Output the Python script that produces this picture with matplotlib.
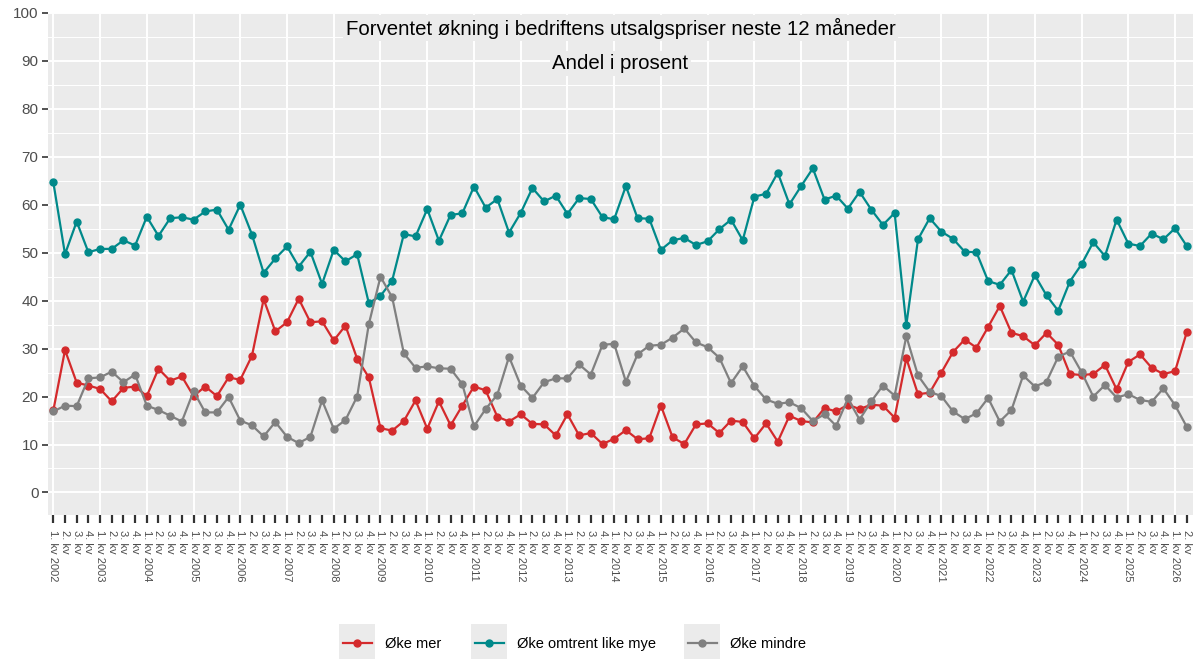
import matplotlib
matplotlib.use("Agg")
import matplotlib.pyplot as plt
from matplotlib.patches import Rectangle
from matplotlib.lines import Line2D
import numpy as np

plt.rcParams['font.family'] = ['Liberation Sans', 'DejaVu Sans']

# 2002 1. kv - 2026 2. kv
years = list(range(2002, 2027))
quarters = [(y, q) for y in years for q in range(1, 5)][:98]
tick_labels = [f"{q}. kv {y}" if q == 1 else f"{q}. kv" for y, q in quarters]

oke_mer = [
    17.1, 29.7, 22.9, 22.3, 21.6, 19.0, 21.8, 22.1, 20.1, 25.8, 23.3, 24.2, 20.1,
    22.1, 20.1, 24.0, 23.5, 28.5, 40.3, 33.6, 35.5, 40.4, 35.5, 35.7, 31.7,
    34.8, 27.9, 24.0, 13.4, 12.9, 14.9, 19.2, 13.3, 19.0, 14.0, 18.1, 22.1, 21.3,
    15.8, 14.8, 16.3, 14.3, 14.2, 11.9, 16.3, 11.9, 12.4, 10.1, 11.2, 13.0,
    11.1, 11.3, 18.1, 11.5, 10.1, 14.2, 14.4, 12.4, 15.0, 14.7, 11.3, 14.4, 10.6,
    16.0, 14.9, 14.6, 17.6, 16.9, 18.3, 17.4, 18.3, 18.1, 15.6, 28.0, 20.5,
    20.8, 25.0, 29.3, 31.9, 30.2, 34.5, 38.9, 33.3, 32.6, 30.7, 33.3, 30.8, 24.7,
    24.5, 24.7, 26.6, 21.5, 27.2, 28.8, 26.0, 24.7, 25.3, 33.4,
]
oke_like = [
    64.7, 49.7, 56.5, 50.1, 50.8, 50.8, 52.6, 51.5, 57.5, 53.5, 57.2, 57.4, 56.9,
    58.6, 59.0, 54.8, 60.0, 53.8, 45.8, 48.8, 51.3, 47.1, 50.2, 43.5, 50.6,
    48.2, 49.7, 39.5, 41.0, 44.2, 53.9, 53.4, 59.1, 52.5, 57.9, 58.2, 63.8, 59.4,
    61.2, 54.2, 58.3, 63.5, 60.7, 61.9, 58.1, 61.4, 61.2, 57.4, 57.0, 63.9,
    57.2, 57.1, 50.6, 52.6, 53.1, 51.6, 52.4, 54.9, 56.9, 52.6, 61.7, 62.3, 66.7,
    60.1, 63.9, 67.6, 61.1, 61.9, 59.2, 62.7, 59.0, 55.8, 58.3, 34.9, 52.8,
    57.2, 54.4, 52.9, 50.2, 50.1, 44.1, 43.3, 46.4, 39.8, 45.3, 41.1, 37.9, 44.0,
    47.6, 52.2, 49.3, 56.9, 51.9, 51.4, 54.0, 52.8, 55.1, 51.4,
]
oke_mindre = [
    16.9, 18.1, 18.0, 23.8, 24.0, 25.2, 23.0, 24.6, 18.1, 17.2, 16.0, 14.8, 21.1,
    16.7, 16.7, 19.9, 15.0, 14.0, 11.7, 14.7, 11.6, 10.3, 11.6, 19.2, 13.3,
    15.1, 20.0, 35.1, 45.0, 40.7, 29.0, 26.0, 26.3, 25.9, 25.8, 22.6, 13.8, 17.4,
    20.4, 28.3, 22.3, 19.7, 23.0, 23.8, 23.8, 26.7, 24.6, 30.8, 31.0, 23.1,
    28.8, 30.6, 30.8, 32.3, 34.2, 31.3, 30.3, 28.1, 22.8, 26.3, 22.2, 19.4, 18.5,
    18.8, 17.6, 14.9, 16.3, 13.9, 19.6, 15.2, 19.0, 22.3, 20.2, 32.6, 24.4,
    21.0, 20.1, 16.9, 15.3, 16.5, 19.7, 14.8, 17.2, 24.4, 22.1, 23.1, 28.3, 29.4,
    25.1, 20.0, 22.4, 19.8, 20.5, 19.3, 18.9, 21.7, 18.2, 13.7,
]

series_names = ["Øke mer", "Øke omtrent like mye", "Øke mindre"]
series_colors = ["#D42A2C", "#00898A", "#808080"]
series_values = [oke_mer, oke_like, oke_mindre]

W, H = 1195, 659
fig = plt.figure(figsize=(W / 100, H / 100), dpi=100)
ax = fig.add_axes([48.3 / W, 1 - 515 / H, (1192.7 - 48.3) / W, (515 - 13) / H])
ax.set_facecolor('#EBEBEB')
for s in ax.spines.values():
    s.set_visible(False)

x = np.arange(len(tick_labels))
ax.set_xlim(-0.43, len(x) - 1 + 0.51)
ax.set_ylim(-4.7, 100)

## grid
ax.set_axisbelow(True)
ax.set_yticks(range(0, 101, 10))
ax.set_yticks(range(5, 100, 10), minor=True)
ax.grid(which='major', axis='y', color='white', lw=1.4)
ax.grid(which='minor', axis='y', color='white', lw=0.7)
for i in x[::4]:
    ax.axvline(i, color='white', lw=1.4, zorder=0.6)

## series
for name, col, vals in zip(series_names, series_colors, series_values):
    ax.plot(x, vals, color=col, lw=1.6, marker='o', ms=5, zorder=3, label=name)

## ticks
ax.set_xticks(x)
ax.set_xticklabels(tick_labels, rotation=-90, ha='center', va='top')
ax.tick_params(axis='x', length=6, width=1.6, color='#333333', labelsize=8,
               labelcolor='#4D4D4D', pad=5)
ax.tick_params(axis='y', which='major', length=4, width=1.2, color='#333333',
               labelsize=11, labelcolor='#4D4D4D', pad=3)
ax.tick_params(axis='y', which='minor', length=0)

## title inside panel
bb = dict(facecolor='#EBEBEB', edgecolor='none', pad=2)
ax.text(0.5, 0.970, "Forventet økning i bedriftens utsalgspriser neste 12 måneder",
        transform=ax.transAxes, ha='center', va='center', fontsize=14.7, bbox=bb)
ax.text(0.5, 0.900, "Andel i prosent", transform=ax.transAxes, ha='center',
        va='center', fontsize=14.7, bbox=bb)

## legend (ggplot style keys)
key_x = [339, 471, 684]
key_w, key_top, key_bot = 36, 624, 661
for kx, name, col in zip(key_x, series_names, series_colors):
    fig.add_artist(Rectangle((kx / W, 1 - key_bot / H), key_w / W, (key_bot - key_top) / H,
                             transform=fig.transFigure, facecolor='#EBEBEB', edgecolor='none'))
    ly = 1 - 643 / H
    fig.add_artist(Line2D([(kx + 4) / W, (kx + key_w - 3) / W], [ly, ly], color=col, lw=1.6,
                          transform=fig.transFigure))
    fig.add_artist(Line2D([(kx + key_w / 2) / W], [ly], color=col, marker='o', ms=5,
                          transform=fig.transFigure))
    fig.text((kx + key_w + 10) / W, 1 - 644 / H, name, ha='left', va='center',
             fontsize=10.5, color='black')

fig.savefig('out.png', dpi=100)
